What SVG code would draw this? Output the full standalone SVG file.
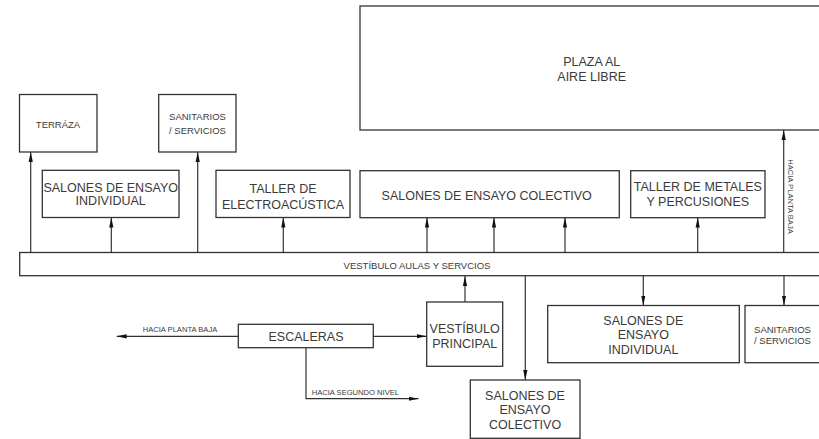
<svg xmlns="http://www.w3.org/2000/svg" width="819" height="439" viewBox="0 0 819 439">
<defs>
<marker id="ah" markerUnits="userSpaceOnUse" markerWidth="11" markerHeight="5" refX="10" refY="2.5" orient="auto">
<path d="M0,0.4 L10,2.5 L0,4.6 Z" fill="#111"/>
</marker>
<style>
.box{fill:#fff;stroke:#333;stroke-width:1.3}
.t{font-family:"Liberation Sans",Arial,sans-serif;font-size:12.5px;fill:#3a3a3a;text-anchor:middle}
.s{font-family:"Liberation Sans",Arial,sans-serif;font-size:9.5px;fill:#3a3a3a;text-anchor:middle}
.xs{font-family:"Liberation Sans",Arial,sans-serif;font-size:7.6px;fill:#3a3a3a}
.c{fill:none;stroke:#333;stroke-width:1.2}
.a{fill:none;stroke:#333;stroke-width:1.2;marker-end:url(#ah)}
</style>
</defs>
<rect width="819" height="439" fill="#fff"/>
<g id="connectors">
<line class="a" x1="30.7" y1="252.5" x2="30.7" y2="152"/>
<line class="a" x1="111.3" y1="252.5" x2="111.3" y2="217.5"/>
<line class="a" x1="197.7" y1="252.5" x2="197.7" y2="152"/>
<line class="a" x1="283.3" y1="252.5" x2="283.3" y2="217.5"/>
<line class="a" x1="427" y1="252.5" x2="427" y2="217.5"/>
<line class="a" x1="494" y1="252.5" x2="494" y2="217.5"/>
<line class="a" x1="565" y1="252.5" x2="565" y2="217.5"/>
<line class="a" x1="697.7" y1="252.5" x2="697.7" y2="217.5"/>
<line class="a" x1="783.7" y1="252.5" x2="783.7" y2="130"/>
<line class="a" x1="465" y1="302" x2="465" y2="276"/>
<line class="a" x1="525.3" y1="276" x2="525.3" y2="380"/>
<line class="a" x1="643.3" y1="276" x2="643.3" y2="305.5"/>
<line class="a" x1="784" y1="276" x2="784" y2="305.5"/>
<line class="a" x1="238.3" y1="336.3" x2="116.7" y2="336.3"/>
<line class="a" x1="373.3" y1="336.3" x2="426.7" y2="336.3"/>
<polyline class="a" points="306,347.7 306,398.7 418.5,398.7"/>
<text class="xs" x="142.7" y="332">HACIA PLANTA BAJA</text>
<text class="xs" x="311.7" y="395">HACIA SEGUNDO NIVEL</text>
<text class="xs" transform="translate(788,196.5) rotate(90)" text-anchor="middle">HACIA PLANTA BAJA</text>
</g>
<g id="plaza">
<rect class="box" x="360" y="6" width="470" height="124"/>
<text class="t" x="591.7" y="66">PLAZA AL</text>
<text class="t" x="591.7" y="81">AIRE LIBRE</text>
</g>
<g id="terraza">
<rect class="box" x="19.5" y="94.5" width="77.5" height="57.5"/>
<text class="s" x="58" y="127.5" font-size="9">TERRÁZA</text>
</g>
<g id="sanitarios-1">
<rect class="box" x="158.7" y="94.5" width="77.3" height="57.5"/>
<text class="s" x="197.5" y="119.8">SANITARIOS</text>
<text class="s" x="197.5" y="133.5">/ SERVICIOS</text>
</g>
<g id="salones-individual-1">
<rect class="box" x="42.3" y="170.3" width="136.7" height="47.2"/>
<text class="t" x="110.7" y="192.3">SALONES DE ENSAYO</text>
<text class="t" x="110.7" y="205.2">INDIVIDUAL</text>
</g>
<g id="taller-electro">
<rect class="box" x="216" y="170.3" width="134" height="47.2"/>
<text class="t" x="283" y="192.5">TALLER DE</text>
<text class="t" x="283" y="208.7">ELECTROACÚSTICA</text>
</g>
<g id="salones-colectivo-1">
<rect class="box" x="360" y="170.7" width="259.3" height="47"/>
<text class="t" x="486.7" y="200.4">SALONES DE ENSAYO COLECTIVO</text>
</g>
<g id="taller-metales">
<rect class="box" x="630.7" y="170.7" width="134.3" height="47"/>
<text class="t" x="697.8" y="191">TALLER DE METALES</text>
<text class="t" x="697.8" y="206">Y PERCUSIONES</text>
</g>
<g id="vestibulo-aulas">
<rect class="box" x="19.7" y="252.5" width="810" height="23.2"/>
<text class="s" x="417" y="269.3">VESTÍBULO AULAS Y SERVCIOS</text>
</g>
<g id="escaleras">
<rect class="box" x="238.3" y="324.3" width="135" height="23.4"/>
<text class="t" x="306" y="341">ESCALERAS</text>
</g>
<g id="vestibulo-principal">
<rect class="box" x="426.7" y="302" width="76" height="64.3"/>
<text class="t" x="464.7" y="333">VESTÍBULO</text>
<text class="t" x="464.7" y="347.6">PRINCIPAL</text>
</g>
<g id="salones-colectivo-2">
<rect class="box" x="470.3" y="380" width="109.7" height="58.3"/>
<text class="t" x="525" y="399.5">SALONES DE</text>
<text class="t" x="525" y="414.4">ENSAYO</text>
<text class="t" x="525" y="428.7">COLECTIVO</text>
</g>
<g id="salones-individual-2">
<rect class="box" x="547.7" y="305.5" width="191.6" height="57.2"/>
<text class="t" x="643.3" y="324.5">SALONES DE</text>
<text class="t" x="643.3" y="339.4">ENSAYO</text>
<text class="t" x="643.3" y="353.7">INDIVIDUAL</text>
</g>
<g id="sanitarios-2">
<rect class="box" x="745" y="305.5" width="100" height="57.2"/>
<text class="s" x="782.5" y="333">SANITARIOS</text>
<text class="s" x="782.5" y="344">/ SERVICIOS</text>
</g>
</svg>
